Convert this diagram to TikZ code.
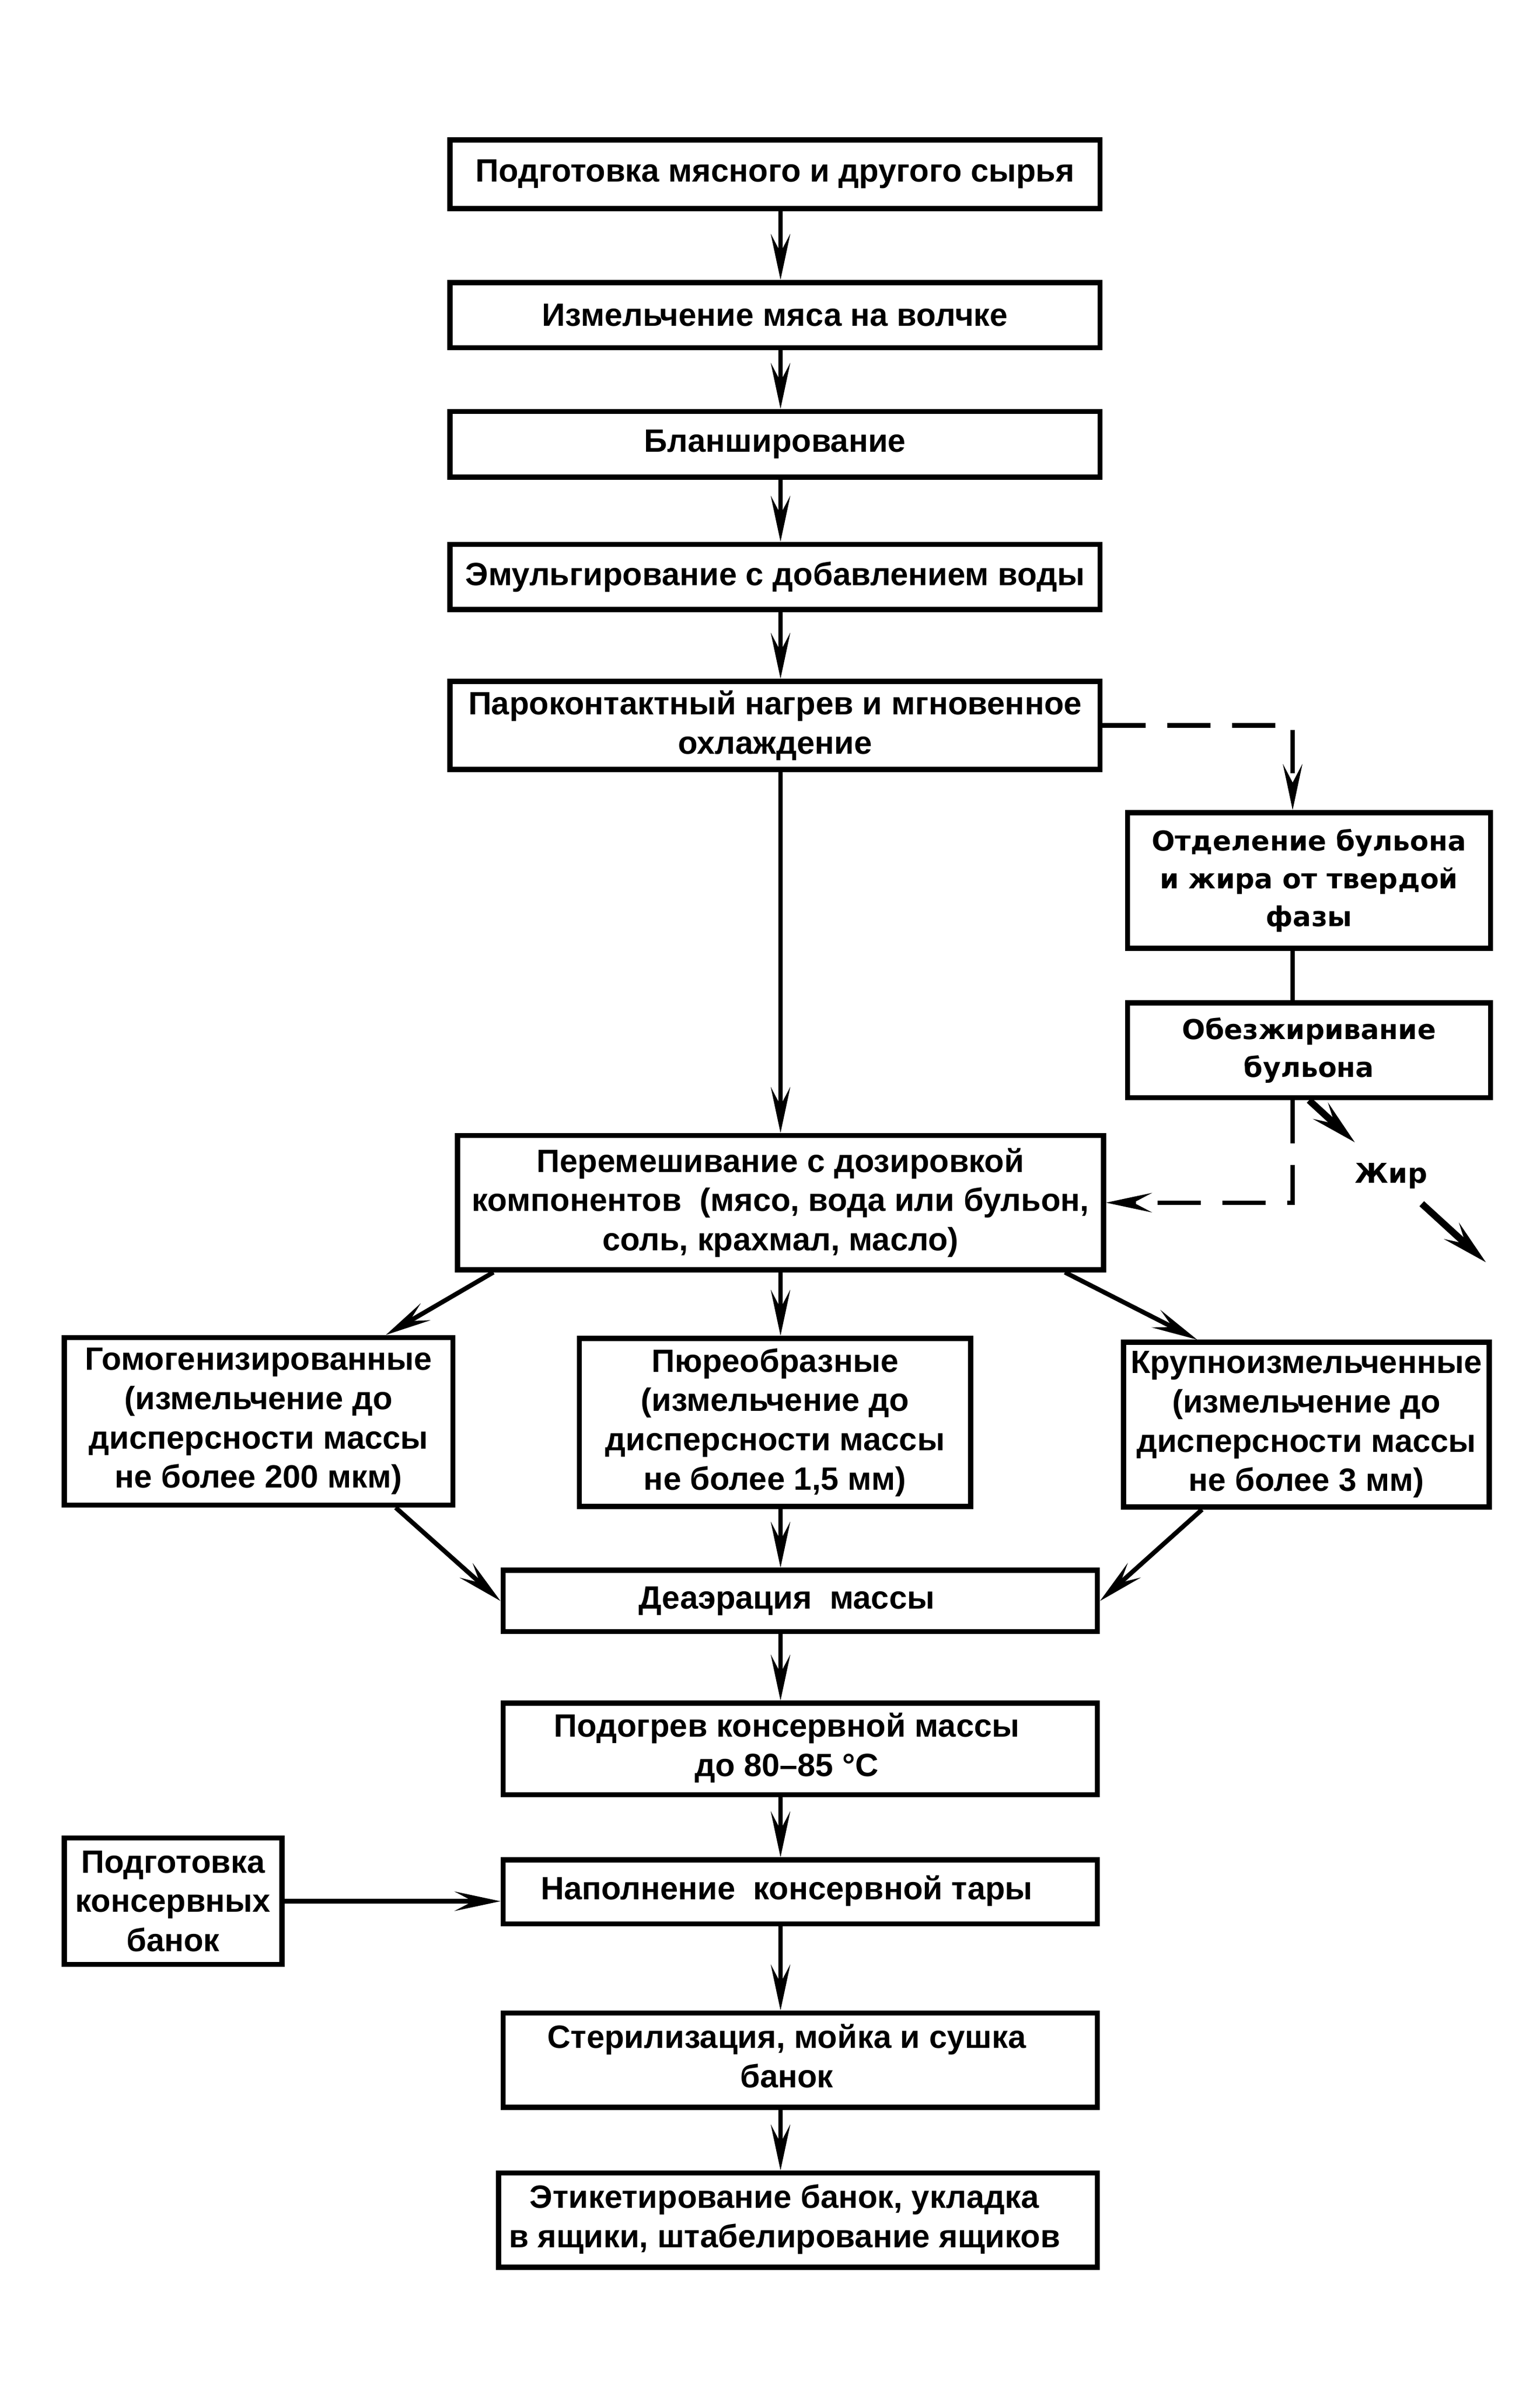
\documentclass[tikz,border=0pt]{standalone}
\usepackage{fontspec}
\setmainfont{Liberation Sans}
\newfontfamily\widefont{DejaVu Sans}
\usetikzlibrary{arrows.meta,calc}
\newcommand\shl[1]{\begin{tabular}{@{}c@{}}#1\end{tabular}\hspace*{0.5cm}}
\begin{document}
\begin{tikzpicture}[x=0.01014cm, y=-0.01014cm,
  sz/.style 2 args={minimum width=#1*0.1014mm, minimum height=#2*0.1014mm},
  box/.style={draw, line width=2.7pt, align=center, inner sep=0pt,
    font=\fontsize{17}{20.7}\selectfont\bfseries},
  wbox/.style={draw, line width=2.7pt, align=center, inner sep=0pt,
    font=\widefont\fontsize{14.4}{20}\selectfont\bfseries},
  conn/.style={line width=2.4pt},
  tip/.style={-{Stealth[length=8.5mm, width=3.6mm, inset=3.4mm]}},
  arr/.style={conn, tip},
  dline/.style={conn, dash pattern=on 0.8cm off 0.4cm},
  fat/.style={line width=3.6pt, -{Stealth[length=8.5mm, width=4mm, inset=3.4mm]}}
]
\useasboundingbox[fill=white] (0,0) rectangle (2810.7,4363.9);

\coordinate (sp) at (1425,0);
\coordinate (rt) at (2360,0);

\node[box, sz={1188}{125}] (b1) at (1415,318) {Подготовка мясного и другого сырья};
\node[box, sz={1188}{119}] (b2) at (1415,575) {Измельчение мяса на волчке};
\node[box, sz={1188}{120}] (b3) at (1415,811) {Бланширование};
\node[box, sz={1188}{119}] (b4) at (1415,1053) {Эмульгирование с добавлением воды};
\node[box, sz={1188}{161}] (b5) at (1415,1324) {Пароконтактный нагрев и мгновенное\\охлаждение};
\node[wbox, sz={663}{248}] (b6) at (2390,1607) {Отделение бульона\\и жира от твердой\\фазы};
\node[wbox, sz={663}{173}] (b7) at (2390,1917) {Обезжиривание\\бульона};
\node[box, sz={1180}{245}] (b8) at (1425,2195) {Перемешивание с дозировкой\\компонентов\ \ (мясо, вода или бульон,\\соль, крахмал, масло)};
\node[box, sz={710}{306}] (b9) at (472,2594) {Гомогенизированные\\(измельчение до\\дисперсности массы\\не более 200 мкм)};
\node[box, sz={715}{307}] (b10) at (1415,2596) {Пюреобразные\\(измельчение до\\дисперсности массы\\не более 1,5 мм)};
\node[box, sz={668}{301}] (b11) at (2385,2600) {Крупноизмельченные\\(измельчение до\\дисперсности массы\\не более 3 мм)};
\node[box, sz={1086}{112}] (b12) at (1461,2922) {\shl{Деаэрация\ \ массы}};
\node[box, sz={1086}{167}] (b13) at (1461,3192) {\shl{Подогрев консервной массы\\до 80–85 °C}};
\node[box, sz={1086}{117}] (b14) at (1461,3453) {\shl{Наполнение\ \ консервной тары}};
\node[box, sz={398}{231}] (b15) at (316,3470) {Подготовка\\консервных\\банок};
\node[box, sz={1086}{172}] (b16) at (1461,3760) {\shl{Стерилизация, мойка и сушка\\банок}};
\node[box, sz={1094}{172}] (b17) at (1457,4052) {\shl{Этикетирование банок, укладка\\в ящики, штабелирование ящиков}};
\node[font=\widefont\fontsize{14.4}{20}\selectfont\bfseries, inner sep=2pt] (zhir) at (2540,2146) {Жир};
\coordinate (zend) at (2713,2304);

% main spine
\draw[arr] (b1.south -| sp) -- (b2.north -| sp);
\draw[arr] (b2.south -| sp) -- (b3.north -| sp);
\draw[arr] (b3.south -| sp) -- (b4.north -| sp);
\draw[arr] (b4.south -| sp) -- (b5.north -| sp);
\draw[arr] (b5.south -| sp) -- (b8.north -| sp);
\draw[arr] (b8.south -| sp) -- (b10.north -| sp);
\draw[arr] (b10.south -| sp) -- (b12.north -| sp);
\draw[arr] (b12.south -| sp) -- (b13.north -| sp);
\draw[arr] (b13.south -| sp) -- (b14.north -| sp);
\draw[arr] (b14.south -| sp) -- (b16.north -| sp);
\draw[arr] (b16.south -| sp) -- (b17.north -| sp);

% branches
\draw[arr] ($(b8.south west)+(70,0)$) -- ($(b9.north east)+(-127,0)$);
\draw[arr] ($(b8.south east)+(-75,0)$) -- ($(b11.north west)+(139,0)$);
\draw[arr] ($(b9.south east)+(-109,0)$) -- (b12.west);
\draw[arr] ($(b11.south west)+(148,0)$) -- (b12.east);
\draw[arr] (b15.east) -- (b15.east -| b14.west);

% broth side loop
\draw[dline, tip] (b5.east) -| (b6.north -| rt);
\draw[conn] (b6.south -| rt) -- (b7.north -| rt);
\draw[dline, tip] (b7.south -| rt) |- (b8.east);

% fat
\draw[fat, shorten >=0.45cm] (b7.south) -- (zhir);
\draw[fat, shorten <=0.3cm] (zhir) -- (zend);
\end{tikzpicture}
\end{document}
